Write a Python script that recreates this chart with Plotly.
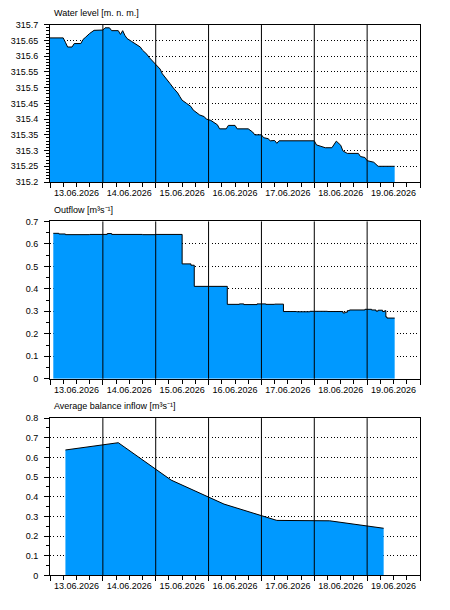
import plotly.graph_objects as go

# ---------------- data ----------------
level_time = [
    "2026-06-13 00:00", "2026-06-13 06:00", "2026-06-13 07:00", "2026-06-13 08:00", "2026-06-13 10:00",
    "2026-06-13 11:00", "2026-06-13 14:00", "2026-06-13 15:00", "2026-06-13 16:00", "2026-06-13 17:00",
    "2026-06-13 18:00", "2026-06-13 20:00", "2026-06-14 00:00", "2026-06-14 01:00", "2026-06-14 03:00",
    "2026-06-14 04:00", "2026-06-14 07:00", "2026-06-14 08:00", "2026-06-14 09:00", "2026-06-14 10:00",
    "2026-06-14 11:00", "2026-06-14 13:00", "2026-06-14 15:00", "2026-06-14 17:00", "2026-06-14 18:00",
    "2026-06-14 20:00", "2026-06-14 21:00", "2026-06-14 23:00", "2026-06-15 00:00", "2026-06-15 02:00",
    "2026-06-15 03:00", "2026-06-15 05:00", "2026-06-15 06:30", "2026-06-15 08:00", "2026-06-15 10:00",
    "2026-06-15 11:00", "2026-06-15 12:00", "2026-06-15 14:00", "2026-06-15 16:00", "2026-06-15 17:00",
    "2026-06-15 19:00", "2026-06-15 20:00", "2026-06-15 22:00", "2026-06-15 23:00", "2026-06-16 01:00",
    "2026-06-16 02:00", "2026-06-16 04:00", "2026-06-16 05:00", "2026-06-16 08:00", "2026-06-16 09:00",
    "2026-06-16 12:00", "2026-06-16 13:00", "2026-06-16 18:00", "2026-06-16 20:00", "2026-06-16 21:00",
    "2026-06-17 00:00", "2026-06-17 01:00", "2026-06-17 03:00", "2026-06-17 04:00", "2026-06-17 06:00",
    "2026-06-17 07:00", "2026-06-17 08:00", "2026-06-18 00:00", "2026-06-18 01:00", "2026-06-18 05:00",
    "2026-06-18 08:00", "2026-06-18 09:00", "2026-06-18 10:00", "2026-06-18 12:00", "2026-06-18 13:00",
    "2026-06-18 15:00", "2026-06-18 20:00", "2026-06-18 21:00", "2026-06-18 23:00", "2026-06-19 00:00",
    "2026-06-19 03:00", "2026-06-19 05:00", "2026-06-19 12:30",
]
level_value = [
    315.658, 315.658, 315.644, 315.629, 315.629,
    315.640, 315.640, 315.653, 315.659, 315.666,
    315.672, 315.682, 315.683, 315.690, 315.690,
    315.681, 315.681, 315.669, 315.681, 315.666,
    315.656, 315.647, 315.638, 315.629, 315.619,
    315.606, 315.596, 315.580, 315.573, 315.559,
    315.544, 315.528, 315.513, 315.499, 315.483,
    315.471, 315.460, 315.450, 315.440, 315.429,
    315.419, 315.413, 315.408, 315.400, 315.396,
    315.391, 315.382, 315.369, 315.369, 315.380,
    315.380, 315.369, 315.369, 315.359, 315.350,
    315.350, 315.341, 315.338, 315.331, 315.332,
    315.323, 315.331, 315.331, 315.318, 315.309,
    315.309, 315.318, 315.330, 315.317, 315.299,
    315.291, 315.291, 315.281, 315.278, 315.268,
    315.263, 315.250, 315.250,
]

outflow_time = [
    "2026-06-13 01:30", "2026-06-13 04:00", "2026-06-13 07:00", "2026-06-13 18:00", "2026-06-14 02:00",
    "2026-06-14 04:00", "2026-06-14 18:00", "2026-06-15 00:00", "2026-06-15 12:00", "2026-06-15 16:00",
    "2026-06-15 17:30", "2026-06-16 08:30", "2026-06-16 14:00", "2026-06-16 16:00", "2026-06-16 22:00",
    "2026-06-17 02:00", "2026-06-17 06:00", "2026-06-17 10:00", "2026-06-17 16:00", "2026-06-17 22:00",
    "2026-06-18 06:00", "2026-06-18 13:00", "2026-06-18 14:00", "2026-06-18 15:00", "2026-06-18 16:00",
    "2026-06-18 23:00", "2026-06-19 02:00", "2026-06-19 04:00", "2026-06-19 05:00", "2026-06-19 07:00",
    "2026-06-19 08:00", "2026-06-19 08:30", "2026-06-19 09:00", "2026-06-19 12:30",
]
outflow_value = [
    0.647, 0.644, 0.641, 0.642, 0.646,
    0.642, 0.641, 0.642, 0.511, 0.505,
    0.411, 0.331, 0.333, 0.330, 0.333,
    0.331, 0.332, 0.299, 0.298, 0.300,
    0.299, 0.293, 0.296, 0.303, 0.306,
    0.309, 0.306, 0.301, 0.305, 0.299,
    0.303, 0.275, 0.270, 0.270,
]

inflow_time = [
    "2026-06-13 07:00", "2026-06-14 07:00", "2026-06-15 07:00", "2026-06-16 07:00",
    "2026-06-17 07:00", "2026-06-18 07:00", "2026-06-19 07:30",
]
inflow_value = [0.638, 0.675, 0.485, 0.363, 0.280, 0.278, 0.240]

day_lines = ["2026-06-14", "2026-06-15", "2026-06-16", "2026-06-17", "2026-06-18", "2026-06-19"]
x_range = ["2026-06-13 00:00", "2026-06-20 00:00"]

titles = ["Water level [m. n. m.]", "Outflow [m³s⁻¹]", "Average balance inflow [m³s⁻¹]"]

# ---------------- figure ----------------
W, H = 450, 610
FILL = "#0099FF"
FONT = "Liberation Sans, Arial, sans-serif"

def py(p):
    return 1 - p / H

panels = [
    dict(top=20, bot=180, rng=[315.2, 315.7], dtick=0.05, minor=0.01, t=level_time, v=level_value, shape="linear"),
    dict(top=220, bot=380, rng=[0, 0.7], dtick=0.1, minor=0.05, t=outflow_time, v=outflow_value, shape="hv"),
    dict(top=420, bot=580, rng=[0, 0.8], dtick=0.1, minor=0.05, t=inflow_time, v=inflow_value, shape="linear"),
]

fig = go.Figure()
layout = dict(
    width=W, height=H, autosize=False,
    margin=dict(l=0, r=0, t=0, b=0),
    paper_bgcolor="white", plot_bgcolor="white",
    showlegend=False,
    font=dict(family=FONT, size=9, color="#000"),
)
shapes = []
annotations = []
for i, p in enumerate(panels):
    n = "" if i == 0 else str(i + 1)
    xa, ya = "x" + n, "y" + n
    fig.add_trace(go.Scatter(
        x=p["t"], y=p["v"], xaxis=xa, yaxis=ya, mode="lines",
        line=dict(color="black", width=1, shape=p["shape"]),
        fill="tozeroy", fillcolor=FILL, hoverinfo="skip",
    ))
    layout["xaxis" + n] = dict(
        domain=[50 / W, 420 / W], anchor=ya, type="date", range=x_range,
        tick0="2026-06-13", dtick=86400000, tickformat="%d.%m.%Y", ticklabelmode="period",
        ticks="outside", ticklen=5, tickcolor="black", tickwidth=1,
        minor=dict(dtick=6 * 3600000, ticks="outside", ticklen=4, tickcolor="black", showgrid=False),
        showgrid=False, showline=True, linecolor="black", linewidth=1, mirror=True,
        tickfont=dict(family=FONT, size=9, color="#000"), zeroline=False,
        ticklabelstandoff=-3,
    )
    layout["yaxis" + n] = dict(
        domain=[py(p["bot"]), py(p["top"])], anchor=xa, range=p["rng"],
        dtick=p["dtick"], tick0=0, ticks="outside", ticklen=5, tickcolor="black",
        minor=dict(dtick=p["minor"], ticks="outside", ticklen=3, tickcolor="black", showgrid=False),
        showgrid=True, gridcolor="black", gridwidth=1, griddash="1px,2.3px",
        showline=True, linecolor="black", linewidth=1, mirror=True, zeroline=False,
        tickfont=dict(family=FONT, size=9, color="#000"),
        ticklabelstandoff=4,
    )
    for d in day_lines:
        shapes.append(dict(type="line", xref=xa, yref=ya + " domain", x0=d, x1=d, y0=0, y1=1,
                           line=dict(color="black", width=1), layer="above"))
    annotations.append(dict(text=titles[i], xref="paper", yref="paper", x=52 / W, y=py(p["top"] - 12),
                            xanchor="left", yanchor="middle", showarrow=False,
                            font=dict(family=FONT, size=9, color="#000")))

layout["shapes"] = shapes
layout["annotations"] = annotations
fig.update_layout(**layout)
fig.write_html("out.html")
